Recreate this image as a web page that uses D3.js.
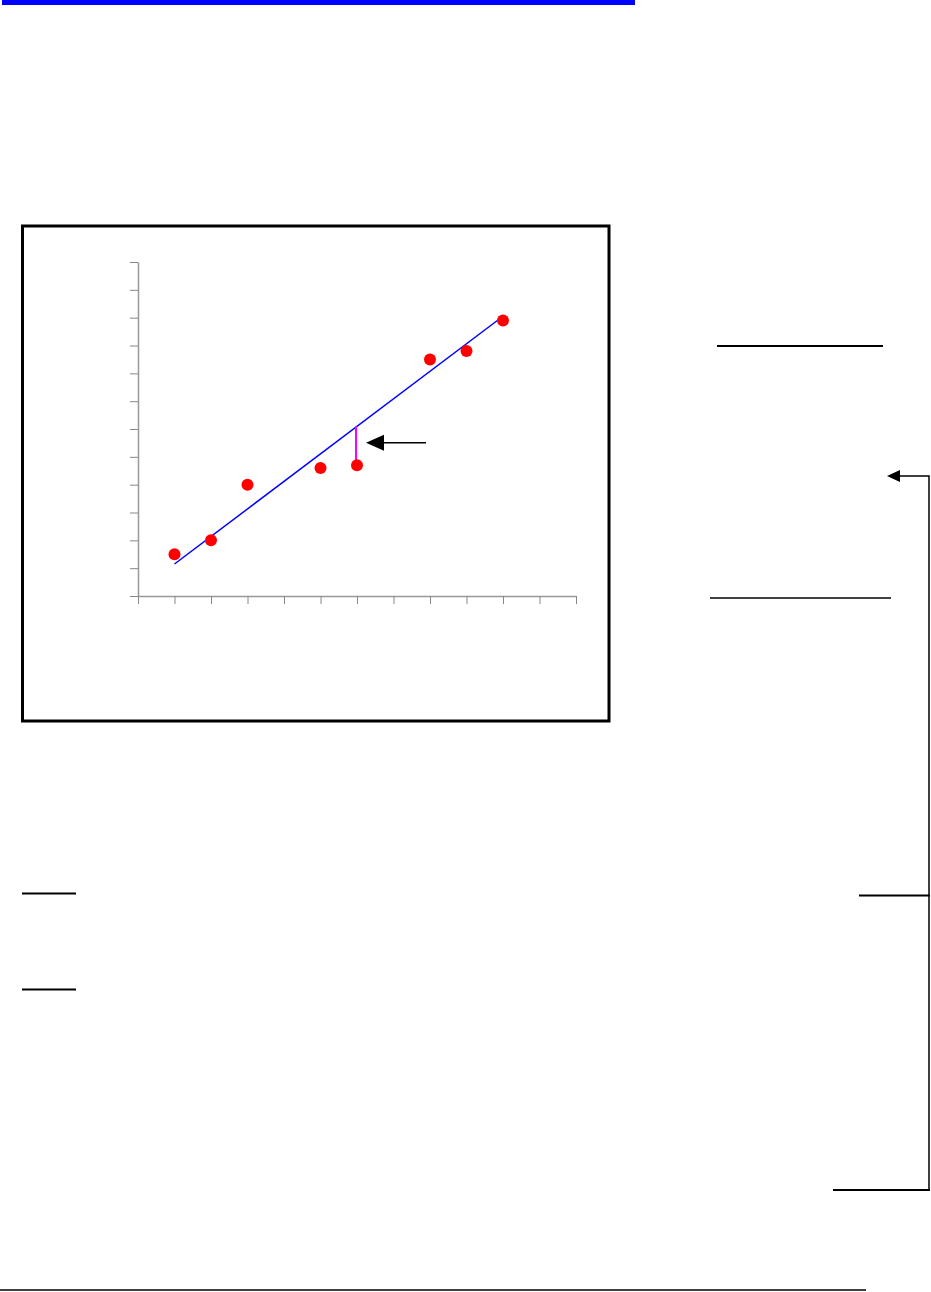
<!DOCTYPE html>
<html>
<head>
<meta charset="utf-8">
<script src="https://cdn.jsdelivr.net/npm/d3@7"></script>
<style>
  html, body { margin: 0; padding: 0; background: #fff; }
  svg { display: block; }
</style>
</head>
<body>
<svg id="page" width="931" height="1292"></svg>
<script>
// ---- data ----
const xValues = [1, 2, 3, 5, 6, 8, 9, 10];
const yValues = [1.5, 2.0, 4.0, 4.6, 4.7, 8.5, 8.8, 9.9];
const fitX = [1, 10];
const fitY = [1.15, 10.05];
const residualIndex = 4;
const xTicks = d3.range(0, 13);
const yTicks = d3.range(0, 13);

const svg = d3.select("#page");

// top blue bar
svg.append("rect").attr("x", 2).attr("y", 0).attr("width", 633).attr("height", 5).attr("fill", "#0000ff");

// chart frame
svg.append("rect").attr("x", 22.5).attr("y", 226).attr("width", 586.5).attr("height", 495)
  .attr("fill", "none").attr("stroke", "#000").attr("stroke-width", 3);

const x = d3.scaleLinear().domain([0, 12]).range([138, 576]);
const y = d3.scaleLinear().domain([0, 12]).range([596, 262]);

const gx = svg.append("g").attr("transform", "translate(0,596)")
  .call(d3.axisBottom(x).tickValues(xTicks).tickFormat("").tickSize(8).tickSizeOuter(0));
const gy = svg.append("g").attr("transform", "translate(138,0)")
  .call(d3.axisLeft(y).tickValues(yTicks).tickFormat("").tickSize(8).tickSizeOuter(0));
[gx, gy].forEach(g => {
  g.select(".domain").attr("stroke", "#999").attr("stroke-width", 1.5);
  g.selectAll(".tick line").attr("stroke", "#888");
});

// regression line
svg.append("line")
  .attr("x1", x(fitX[0])).attr("y1", y(fitY[0]))
  .attr("x2", x(fitX[1])).attr("y2", y(fitY[1]))
  .attr("stroke", "#0000ff").attr("stroke-width", 1.5);

// residual segment
const rx = xValues[residualIndex];
const yhat = fitY[0] + (rx - fitX[0]) * (fitY[1] - fitY[0]) / (fitX[1] - fitX[0]);
svg.append("line")
  .attr("x1", x(rx) - 1).attr("x2", x(rx) - 1)
  .attr("y1", y(yhat)).attr("y2", y(yValues[residualIndex]))
  .attr("stroke", "#ff00ff").attr("stroke-width", 2);

// points
svg.selectAll("circle.pt").data(xValues).enter().append("circle")
  .attr("class", "pt")
  .attr("cx", d => x(d)).attr("cy", (d, i) => y(yValues[i]))
  .attr("r", 6).attr("fill", "#ff0000");

// arrow pointing at the residual
const ay = y((yhat + yValues[residualIndex]) / 2) - 3;
svg.append("line").attr("x1", 380).attr("x2", 426).attr("y1", ay).attr("y2", ay)
  .attr("stroke", "#000").attr("stroke-width", 1.5);
svg.append("path").attr("d", `M366,${ay} L384,${ay - 8} L384,${ay + 8} Z`).attr("fill", "#000");

// right-side rules and connector
const rules = [
  {x1: 717, x2: 883, y: 346, w: 2},
  {x1: 710, x2: 891, y: 598, w: 1.5},
  {x1: 859, x2: 930, y: 895.5, w: 2},
  {x1: 833, x2: 930, y: 1190, w: 2},
  {x1: 22, x2: 76, y: 893.5, w: 2},
  {x1: 22, x2: 76, y: 989.5, w: 2},
  {x1: 0, x2: 866, y: 1290, w: 1.5}
];
svg.selectAll("line.rule").data(rules).enter().append("line")
  .attr("class", "rule")
  .attr("x1", d => d.x1).attr("x2", d => d.x2)
  .attr("y1", d => d.y).attr("y2", d => d.y)
  .attr("stroke", "#000").attr("stroke-width", d => d.w);

// bracket connector with arrow
svg.append("path").attr("d", "M898,476 L929,476 L929,1190")
  .attr("fill", "none").attr("stroke", "#000").attr("stroke-width", 1.5);
svg.append("path").attr("d", "M887,476 L900,470 L900,482 Z").attr("fill", "#000");
</script>
</body>
</html>
